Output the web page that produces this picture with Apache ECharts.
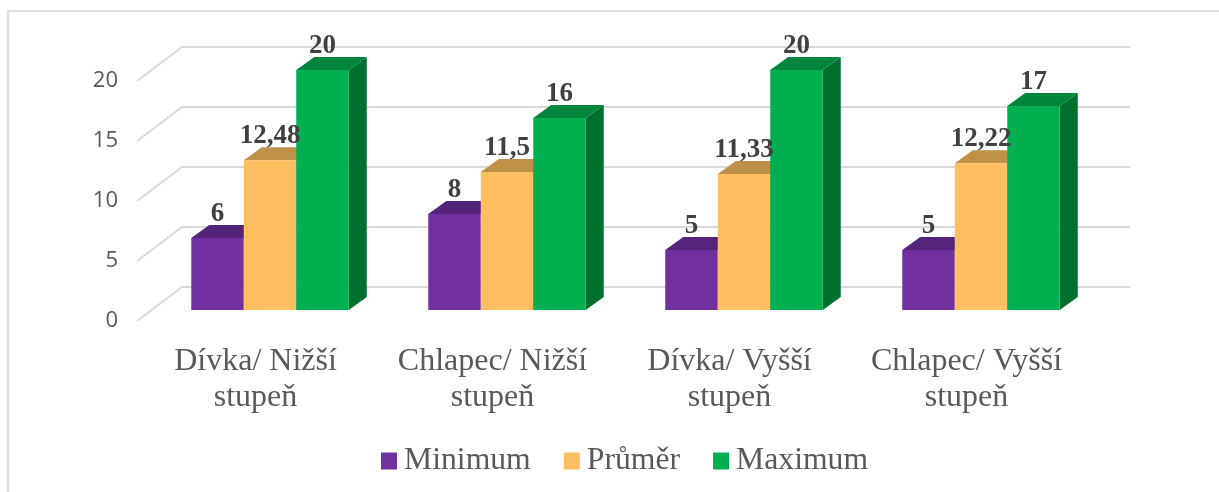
<!DOCTYPE html>
<html><head><meta charset="utf-8">
<style>html,body{margin:0;padding:0;background:#fff}#c{width:1219px;height:492px}</style>
<script src="https://cdn.jsdelivr.net/npm/echarts@6/dist/echarts.min.js"></script></head>
<body><div id="c"></div>
<script>
const categories = ['Dívka/ Nižší\nstupeň','Chlapec/ Nižší\nstupeň','Dívka/ Vyšší\nstupeň','Chlapec/ Vyšší\nstupeň'];
const minimum = [6,8,5,5];
const prumer = [12.48,11.5,11.33,12.22];
const maximum = [20,16,20,17];
const yTicks = [0,5,10,15,20];
const seriesNames = ['Minimum','Průměr','Maximum'];
const faceColors = ['#7030A0','#FFBF61','#00B050'];
const topColors = ['#54237A','#BF9048','#00853C'];
const sideColors = ['#4A1F6B','#A67D3F','#00702F'];

const DX = 18, DY = 13, BAR = 52.5, SERIF = '"Liberation Serif"';
const fmt = v => String(v).replace('.', ',');

function barSeries(idx, values) {
  return {
    name: seriesNames[idx], type: 'custom', coordinateSystem: 'cartesian2d',
    xAxisIndex: 0, yAxisIndex: 0, z: 3 + idx,
    itemStyle: {color: faceColors[idx]},
    data: values.map((v, i) => [i, v]),
    encode: {x: 0, y: 1},
    renderItem(params, api) {
      const base = api.coord([api.value(0), 0]);
      const top = api.coord([api.value(0), api.value(1)]);
      const x0 = base[0] + (idx - 1.5) * BAR, x1 = x0 + BAR;
      const y0 = base[1], y1 = top[1];
      const poly = (pts, fill) => ({type: 'polygon', shape: {points: pts}, style: {fill}});
      return {type: 'group', children: [
        poly([[x1,y0],[x1+DX,y0-DY],[x1+DX,y1-DY],[x1,y1]], sideColors[idx]),
        poly([[x0,y1],[x0+DX,y1-DY],[x1+DX,y1-DY],[x1,y1]], topColors[idx]),
        {type: 'rect', shape: {x: x0, y: y1, width: BAR, height: y0 - y1}, style: {fill: faceColors[idx]}}
      ]};
    }
  };
}
function labelSeries(idx, values) {
  return {
    type: 'custom', coordinateSystem: 'cartesian2d', xAxisIndex: 0, yAxisIndex: 0, z: 10,
    silent: true, tooltip: {show: false},
    data: values.map((v, i) => [i, v]),
    renderItem(params, api) {
      const top = api.coord([api.value(0), api.value(1)]);
      return {type: 'text', style: {
        x: top[0] + (idx - 1) * BAR, y: top[1] - 24,
        text: fmt(api.value(1)), fill: '#404040',
        font: 'bold 27px ' + SERIF, align: 'center', verticalAlign: 'middle'
      }};
    }
  };
}
const option = {
  backgroundColor: '#fff',
  animation: false,
  graphic: [
    {type: 'polyline', z: 0, shape: {points: [[8,492],[8,11],[1219,11]]}, style: {stroke: '#e0e0e0', lineWidth: 2.2, fill: null}}
  ],
  legend: {
    data: seriesNames, left: 376, top: 440, itemWidth: 16, itemHeight: 17, itemGap: 33,
    icon: 'rect', textStyle: {fontFamily: SERIF, fontSize: 31.7, color: '#595959', padding: [0,0,0,2]}
  },
  grid: [
    {left: 151.5, width: 948, top: 70, height: 240},
    {left: 182, width: 948, top: 47, height: 240},
    {left: 137, width: 948, top: 81, height: 240}
  ],
  xAxis: [
    {type: 'category', gridIndex: 0, data: categories, show: false},
    {type: 'category', gridIndex: 1, data: categories, show: false},
    {type: 'category', gridIndex: 2, data: categories, axisLine: {show: false}, axisTick: {show: false},
     axisLabel: {fontFamily: SERIF, fontSize: 32, color: '#595959', lineHeight: 36, margin: 23, interval: 0}}
  ],
  yAxis: [
    {type: 'value', gridIndex: 0, min: 0, max: 20, interval: 5, show: false},
    {type: 'value', gridIndex: 1, min: 0, max: 20, interval: 5, axisLine: {show: false}, axisTick: {show: false},
     axisLabel: {show: false}, splitLine: {lineStyle: {color: '#d9d9d9', width: 2}}},
    {type: 'value', gridIndex: 2, min: 0, max: 20, interval: 5, axisLine: {show: false}, axisTick: {show: false},
     splitLine: {show: false}, axisLabel: {fontFamily: '"Open Sans"', fontSize: 22, color: '#595959', margin: 19}}
  ],
  series: [
    {type: 'custom', xAxisIndex: 1, yAxisIndex: 1, z: 1, silent: true, data: yTicks.map(v => [0, v]),
     renderItem(params, api) {
       const p = api.coord([0, api.value(1)]);
       const x = params.coordSys.x;
       return {type: 'line', shape: {x1: x, y1: p[1], x2: x - 45, y2: p[1] + 34},
         style: {stroke: '#d9d9d9', lineWidth: 2}};
     }},
    barSeries(0, minimum), barSeries(1, prumer), barSeries(2, maximum),
    labelSeries(0, minimum), labelSeries(1, prumer), labelSeries(2, maximum)
  ]
};
echarts.init(document.getElementById('c'), null, {renderer: 'canvas'}).setOption(option);
</script></body></html>
